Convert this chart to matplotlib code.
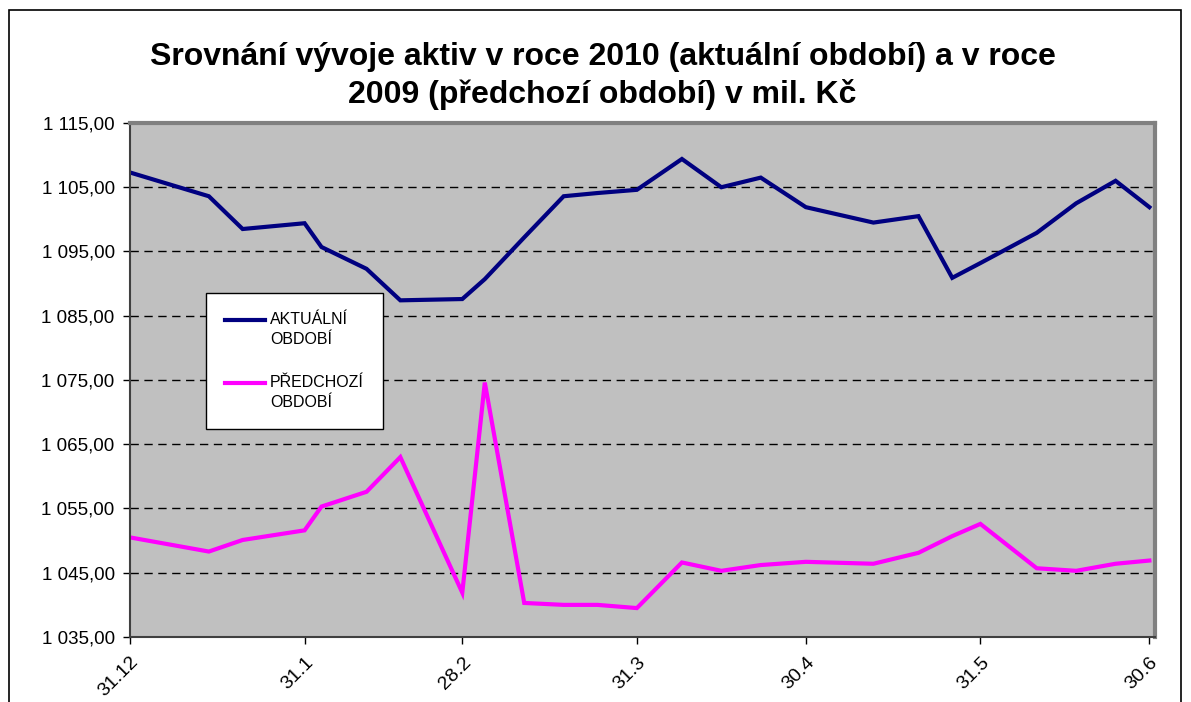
import matplotlib.pyplot as plt
import matplotlib.patches as patches
from matplotlib.legend_handler import HandlerLine2D
import numpy as np

# days after 31.12.2009
days = [0, 14, 20, 31, 34, 42, 48, 59, 63, 70, 77, 83, 90, 98, 105, 112,
        120, 132, 140, 146, 151, 161, 168, 175, 181]
aktualni = [1107.3, 1103.6, 1098.5, 1099.4, 1095.7, 1092.3, 1087.4, 1087.6,
            1090.7, 1097.2, 1103.6, 1104.1, 1104.6, 1109.4, 1105.0, 1106.5,
            1101.9, 1099.5, 1100.5, 1090.9, 1093.2, 1097.9, 1102.5, 1106.0,
            1101.9]
predchozi = [1050.5, 1048.3, 1050.1, 1051.6, 1055.3, 1057.6, 1063.0, 1041.9,
             1074.6, 1040.3, 1040.0, 1040.0, 1039.5, 1046.6, 1045.3, 1046.2,
             1046.7, 1046.4, 1048.1, 1050.7, 1052.6, 1045.7, 1045.3, 1046.4,
             1046.9]
tick_days = [0, 31, 59, 90, 120, 151, 181]
tick_labels = ['31.12', '31.1', '28.2', '31.3', '30.4', '31.5', '30.6']
y_ticks = [1035, 1045, 1055, 1065, 1075, 1085, 1095, 1105, 1115]

plt.rcParams['font.family'] = ['Liberation Sans', 'DejaVu Sans']


class TopLine(HandlerLine2D):
    # put the legend line level with the first text line
    def create_artists(self, legend, orig_handle, xdescent, ydescent, width, height, fontsize, trans):
        arts = super().create_artists(legend, orig_handle, xdescent, ydescent, width, height, fontsize, trans)
        for a in arts:
            a.set_ydata(np.asarray(a.get_ydata()) + 0.62 * fontsize)
        return arts


fig = plt.figure(figsize=(11.91, 7.02), dpi=100)
ax = fig.add_axes([130/1191, 1 - 637/702, 1025/1191, 514/702])
ax.set_facecolor('#C0C0C0')

ax.plot(days, aktualni, color='#000080', lw=3, label='AKTUÁLNÍ\nOBDOBÍ', solid_joinstyle='miter')
ax.plot(days, predchozi, color='#FF00FF', lw=3, label='PŘEDCHOZÍ\nOBDOBÍ', solid_joinstyle='miter')

ax.set_xlim(0, 182)
ax.set_ylim(1035, 1115)
ax.set_yticks(y_ticks)
ax.set_yticklabels([f'{v:,.2f}'.replace(',', ' ').replace('.', ',') for v in y_ticks], fontsize=13.5)
ax.set_xticks(tick_days)
ax.set_xticklabels(tick_labels, fontsize=14, rotation=45, ha='right', rotation_mode='anchor')
ax.tick_params(direction='out', length=5, width=1, color='black')
ax.tick_params(axis='x', pad=7)
ax.tick_params(axis='y', pad=6)

ax.yaxis.grid(True, color='black', linestyle=(0, (6, 4)), lw=1)
ax.set_axisbelow(True)

for side in ['top', 'right']:
    ax.spines[side].set_color('#808080')
    ax.spines[side].set_linewidth(3)
for side in ['left', 'bottom']:
    ax.spines[side].set_color('#404040')
    ax.spines[side].set_linewidth(1.5)

leg = ax.legend(loc='upper left', bbox_to_anchor=(206/1191, 1 - 293/702), bbox_transform=fig.transFigure,
                fontsize=11.5, frameon=True, fancybox=False, edgecolor='black', framealpha=1,
                handlelength=2.5, labelspacing=1.75, borderpad=1.2, handletextpad=0.3, borderaxespad=0,
                handler_map={plt.Line2D: TopLine()})
leg.get_frame().set_linewidth(1)
for t in leg.get_texts():
    t.set_linespacing(1.4)

fig.suptitle('Srovnání vývoje aktiv v roce 2010 (aktuální období) a v roce\n2009 (předchozí období) v mil. Kč',
             x=0.506, y=0.94, fontsize=23, fontweight='bold', linespacing=1.3)

fig.patches.append(patches.Rectangle((9/1191, -0.1), 1172/1191, 1.1 - 10/702, transform=fig.transFigure,
                                     fill=False, edgecolor='black', lw=1.2))

plt.savefig('out.png', dpi=100)
